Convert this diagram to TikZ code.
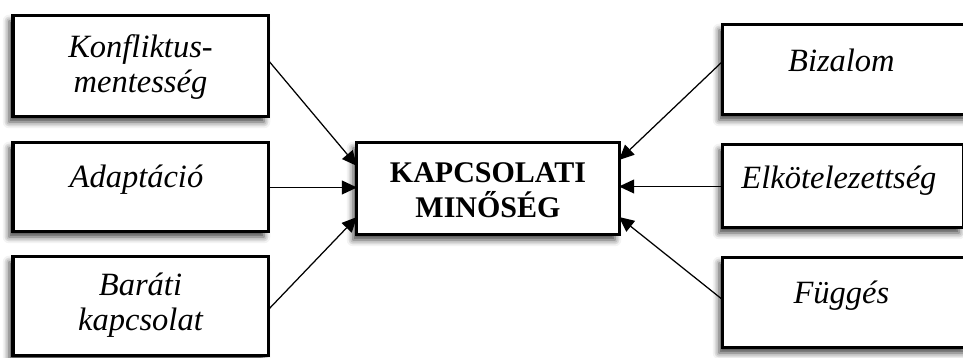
\documentclass[tikz,border=0pt]{standalone}
\usepackage{fontspec}
\setmainfont{Liberation Serif}
\usepackage{tikz}
\usetikzlibrary{arrows.meta, shadows.blur}

\begin{document}
\begin{tikzpicture}[
    x=0.4pt, y=-0.4pt,
    box/.style={
        rectangle,
        draw,
        line width=1.2pt,
        fill=white,
        align=center,
        anchor=north west,
        inner sep=0pt,
        outer sep=0pt,
        font=\fontsize{13}{14}\selectfont\itshape,
        blur shadow={shadow xshift=-1.6pt, shadow yshift=-2pt,
            shadow blur radius=2.5pt, shadow opacity=75}
    },
    leftbox/.style={box, minimum width=102pt},
    rightbox/.style={box, minimum width=96pt},
    arrow/.style={-{Triangle[length=6pt, width=5.5pt]}, line width=0.5pt}
]
\useasboundingbox (0,0) rectangle (963,358);

\node[leftbox, text height=30.6pt, text depth=9.8pt] (konflikt) at (13,16) {
    Konfliktus-\\
    mentesség
};

\node[leftbox, text height=18pt, text depth=17.6pt] (adapt) at (13,143) {
    Adaptáció
};

\node[leftbox, text height=29.6pt, text depth=10pt] (barati) at (13,257) {
    Baráti\\
    kapcsolat
};

\node[box, minimum width=104.8pt, text height=30pt, text depth=6.8pt,
    font=\fontsize{12}{14}\selectfont\bfseries] (minoseg) at (357,143) {
    KAPCSOLATI\\
    MINŐSÉG
};

\node[rightbox, minimum width=98pt, text height=18.8pt, text depth=17.2pt] (bizalom) at (723,25) {
    Bizalom
};

\node[rightbox, text height=17.6pt, text depth=15.6pt] (elkot) at (723,145) {
    Elkötelezettség
};

\node[rightbox, minimum width=98pt, text height=18.4pt, text depth=17.6pt] (fugges) at (723,258) {
    Függés
};

\draw[arrow] ([yshift=2.6pt]konflikt.east) -- ([yshift=9.2pt]minoseg.west);
\draw[arrow] (adapt.east) -- (adapt.east -| minoseg.west);
\draw[arrow] ([yshift=-1.4pt]barati.east) -- ([yshift=-11.2pt]minoseg.west);
\draw[arrow] ([yshift=3.6pt]bizalom.west) -- ([yshift=11.6pt]minoseg.east);
\draw[arrow] (elkot.west) -- (elkot.west -| minoseg.east);
\draw[arrow] ([yshift=1.2pt]fugges.west) -- ([yshift=-11.2pt]minoseg.east);

\end{tikzpicture}
\end{document}
